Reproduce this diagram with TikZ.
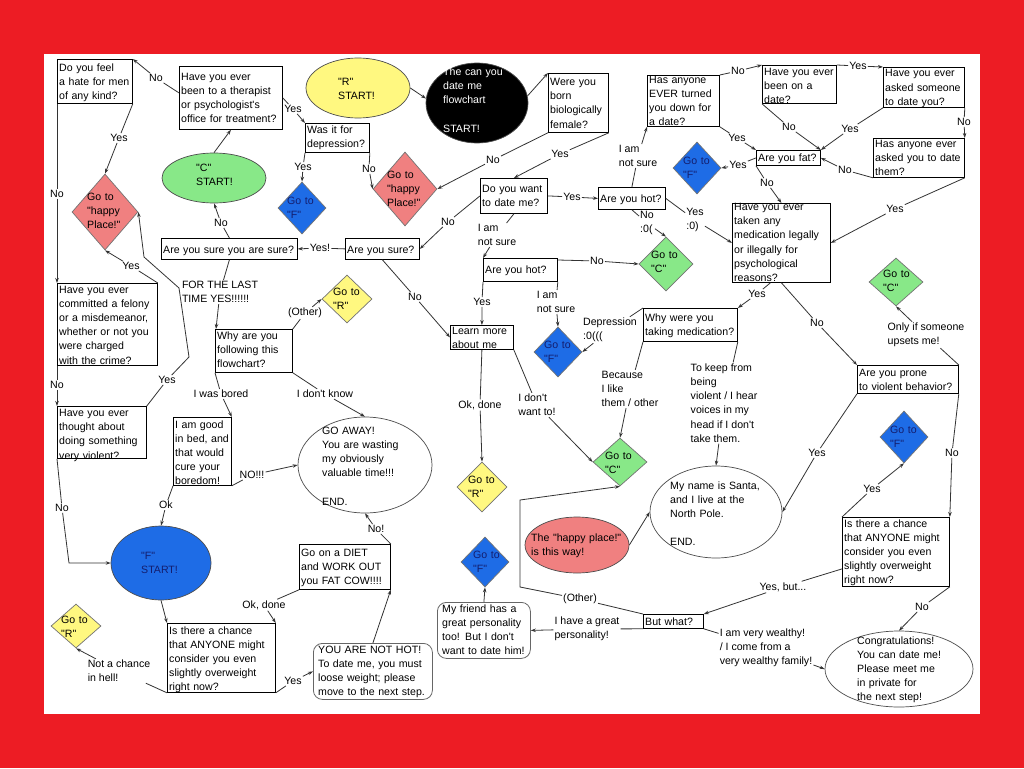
\documentclass[tikz,border=0pt]{standalone}
\usepackage{fontspec}
\newfontfamily\arialish{Liberation Sans}
\usetikzlibrary{shapes.geometric,arrows.meta}
\newcommand\myfs{\arialish\fontsize{10.6}{14.2}\selectfont}
\definecolor{redbg}{RGB}{237,28,36}
\definecolor{pinkc}{RGB}{240,128,128}
\definecolor{greenc}{RGB}{136,232,136}
\definecolor{yellowc}{RGB}{255,248,128}
\definecolor{bluec}{RGB}{30,108,230}
\definecolor{navy}{RGB}{20,30,110}
\tikzset{
  ln/.style={draw=black!80, line width=0.8pt},
  ar/.style={ln, -{Stealth[length=5pt,width=3.5pt]}},
  lab/.style={font=\myfs, inner sep=1pt, align=left},
  bx/.style={draw=black, line width=0.8pt, fill=white, inner sep=0pt, anchor=north west},
  rbx/.style={draw=black!60, line width=0.8pt, fill=white, inner sep=0pt, anchor=north west, rounded corners=9pt},
  tx/.style={font=\myfs, inner sep=0pt, anchor=base west, text width=200pt, align=left},
  dm/.style={diamond, draw=black!55, line width=0.7pt, inner sep=0pt},
  el/.style={ellipse, draw=black!70, line width=0.7pt, inner sep=0pt},
}
\newcommand\qb[7]{%
  \node[bx, minimum width=#4pt, minimum height=#5pt] (#1) at (#2,#3) {};
  \node[tx] at (#2+2,#3+#6) {#7};}
\begin{document}
\begin{tikzpicture}[x=1pt,y=-1pt]
\useasboundingbox (0,0) rectangle (1024,768);
\fill[redbg] (0,0) rectangle (1024,768);
\fill[white] (44,54) rectangle (980,714);

% ---------- boxes ----------
\qb{hate}{57}{59}{75}{44}{12.5}{Do you feel\\a hate for men\\of any kind?}
\qb{ther}{179}{66}{103}{63}{14}{Have you ever\\been to a therapist\\or psychologist's\\office for treatment?}
\qb{depr}{305}{123}{64}{29}{10}{Was it for\\depression?}
\qb{fem}{548}{73}{60}{59}{12.5}{Were you\\born\\biologically\\female?}
\qb{want}{480}{178}{67}{35}{14}{Do you want\\to date me?}
\qb{hotA}{598}{187}{67}{22}{15}{Are you hot?}
\qb{turn}{647}{75}{72}{51}{8}{Has anyone\\EVER turned\\you down for\\a date?}
\qb{been}{762}{65}{74}{38}{10.5}{Have you ever\\been on a\\date?}
\qb{asked}{883}{67}{81}{40}{10}{Have you ever\\asked someone\\to date you?}
\qb{anyask}{873}{138}{91}{39}{9}{Has anyone ever\\asked you to date\\them?}
\qb{fat}{756}{150}{64}{15}{11}{Are you fat?}
\qb{med}{732}{203}{98}{79}{7.5}{Have you ever\\taken any\\medication legally\\or illegally for\\psychological\\reasons?}
\qb{suretwo}{161}{238}{136}{21}{15}{Are you sure you are sure?}
\qb{sure}{345}{238}{74}{21}{15}{Are you sure?}
\qb{hotB}{483}{258}{74}{23}{15}{Are you hot?}
\qb{why}{215}{329}{77}{43}{10}{Why are you\\following this\\flowchart?}
\qb{learn}{450}{325}{63}{24}{9.5}{Learn more\\about me}
\qb{felony}{57}{283}{100}{82}{10}{Have you ever\\committed a felony\\or a misdemeanor,\\whether or not you\\were charged\\with the crime?}
\qb{violent}{57}{406}{89}{52}{10.5}{Have you ever\\thought about\\doing something\\very violent?}
\qb{good}{173}{417}{58}{68}{11}{I am good\\in bed, and\\that would\\cure your\\boredom!}
\qb{medwhy}{643}{308}{94}{33}{13}{Why were you\\taking medication?}
\qb{prone}{857}{365}{101}{28}{11}{Are you prone\\to violent behavior?}
\qb{chanceB}{842}{517}{107}{69}{10}{Is there a chance\\that ANYONE might\\consider you even\\slightly overweight\\right now?}
\qb{chanceA}{167}{623}{108}{69}{11}{Is there a chance\\that ANYONE might\\consider you even\\slightly overweight\\right now?}
\qb{diet}{299}{544}{91}{45}{12}{Go on a DIET\\and WORK OUT\\you FAT COW!!!!}
\qb{butwhat}{643}{614}{60}{14}{11}{But what?}

\node[rbx, minimum width=119pt, minimum height=56pt] (nothot) at (313,643) {};
\node[tx] at (318,653) {YOU ARE NOT HOT!\\To date me, you must\\loose weight; please\\move to the next step.};
\node[rbx, minimum width=93pt, minimum height=56pt] (friend) at (437,602) {};
\node[tx] at (442,612) {My friend has a\\great personality\\too! But I don't\\want to date him!};

% ---------- ellipses ----------
\node[el, fill=greenc, minimum width=104pt, minimum height=50pt] (cstart) at (214,178) {};
\node[tx] at (196,171) {"C"\\START!};
\node[el, fill=yellowc, minimum width=104pt, minimum height=60pt] (rstart) at (358,88) {};
\node[tx] at (338,85) {"R"\\START!};
\node[el, fill=black, minimum width=102pt, minimum height=80pt] (blk) at (477,103) {};
\node[tx, text=white] at (443,75.5) {The can you\\date me\\flowchart\\[14.2pt]START!};
\node[el, fill=bluec, minimum width=100pt, minimum height=74pt] (fstart) at (161,563) {};
\node[tx, text=navy] at (141,559) {"F"\\START!};
\node[el, fill=white, minimum width=134pt, minimum height=96pt] (goaway) at (365,465) {};
\node[tx] at (322,434) {GO AWAY!\\You are wasting\\my obviously\\valuable time!!!\\[14.2pt]END.};
\node[el, fill=white, minimum width=132pt, minimum height=92pt] (santa) at (716,512) {};
\node[tx] at (670,489) {My name is Santa,\\and I live at the\\North Pole.\\[14.2pt]END.};
\node[el, fill=pinkc, minimum width=104pt, minimum height=56pt] (happyE) at (577,545) {};
\node[tx] at (531,541.5) {The "happy place!"\\is this way!};
\node[el, fill=white, minimum width=148pt, minimum height=76pt] (congrats) at (899,669) {};
\node[tx] at (857,644) {Congratulations!\\You can date me!\\Please meet me\\in private for\\the next step!};

% ---------- diamonds ----------
\node[dm, fill=pinkc, minimum width=66pt, minimum height=76pt] (happyA) at (105,212) {};
\node[tx] at (87,200.5) {Go to\\"happy\\Place!"};
\node[dm, fill=pinkc, minimum width=64pt, minimum height=74pt] (happyB) at (405,189) {};
\node[tx] at (387,178) {Go to\\"happy\\Place!"};
\node[dm, fill=bluec, minimum width=48pt, minimum height=52pt] (fA) at (302,208) {};
\node[tx, text=navy] at (287,204) {Go to\\"F"};
\node[dm, fill=bluec, minimum width=48pt, minimum height=52pt] (fB) at (697,168) {};
\node[tx, text=navy] at (683,164) {Go to\\"F"};
\node[dm, fill=greenc, minimum width=54pt, minimum height=54pt] (cA) at (666,264) {};
\node[tx] at (651,258) {Go to\\"C"};
\node[dm, fill=yellowc, minimum width=50pt, minimum height=48pt] (rA) at (347,299) {};
\node[tx] at (333,295) {Go to\\"R"};
\node[dm, fill=bluec, minimum width=48pt, minimum height=50pt] (fC) at (558,352) {};
\node[tx, text=navy] at (544,348) {Go to\\"F"};
\node[dm, fill=greenc, minimum width=54pt, minimum height=48pt] (cB) at (620,462) {};
\node[tx] at (605,459) {Go to\\"C"};
\node[dm, fill=yellowc, minimum width=50pt, minimum height=50pt] (rB) at (482,487) {};
\node[tx] at (468,483) {Go to\\"R"};
\node[dm, fill=bluec, minimum width=48pt, minimum height=50pt] (fD) at (485,562) {};
\node[tx, text=navy] at (473,558) {Go to\\"F"};
\node[dm, fill=yellowc, minimum width=50pt, minimum height=44pt] (rC) at (76,626) {};
\node[tx] at (61,623) {Go to\\"R"};
\node[dm, fill=greenc, minimum width=54pt, minimum height=48pt] (cC) at (896,282) {};
\node[tx] at (883,277) {Go to\\"C"};
\node[dm, fill=bluec, minimum width=48pt, minimum height=52pt] (fE) at (904,437) {};
\node[tx, text=navy] at (890,433) {Go to\\"F"};

% ---------- labels ----------
\node[lab] (l1) at (156,78) {No};
\node[lab] (l2) at (293,109) {Yes};
\node[lab] (l3) at (119,138) {Yes};
\node[lab] (l4) at (57,194) {No};
\node[lab] (l5) at (221,223) {No};
\node[lab] (l6) at (303,167) {Yes};
\node[lab] (l7) at (369,169) {No};
\node[lab] (l8) at (493,160) {No};
\node[lab] (l9) at (560,154) {Yes};
\node[lab] (l10) at (448,222) {No};
\node[lab] (l11) at (320,248) {Yes!};
\node[lab] (l12) at (497,235) {I am\\not sure};
\node[lab] (l13) at (572,197) {Yes};
\node[lab] (l14) at (638,156) {I am\\not sure};
\node[lab] (l15) at (738,71) {No};
\node[lab] (l16) at (737,138) {Yes};
\node[lab] (l17) at (738,165) {Yes};
\node[lab] (l18) at (858,66) {Yes};
\node[lab] (l19) at (789,127) {No};
\node[lab] (l20) at (850,129) {Yes};
\node[lab] (l21) at (964,122) {No};
\node[lab] (l22) at (845,170) {No};
\node[lab] (l23) at (767,183) {No};
\node[lab] (l24) at (895,209) {Yes};
\node[lab] (l25) at (647,223) {No\\:0(};
\node[lab] (l26) at (695,220) {Yes\\:0)};
\node[lab] (l27) at (597,261) {No};
\node[lab] (l28) at (220,292) {FOR THE LAST\\TIME YES!!!!!!};
\node[lab] (l29) at (415,297) {No};
\node[lab] (l30) at (482,302) {Yes};
\node[lab] (l31) at (556,302) {I am\\not sure};
\node[lab] (l32) at (610,330) {Depression\\:0(((};
\node[lab] (l33) at (757,294) {Yes};
\node[lab] (l34) at (817,323) {No};
\node[lab] (l35) at (926,335) {Only if someone\\upsets me!};
\node[lab] (l36) at (305,313) {(Other)};
\node[lab] (l37) at (221,394) {I was bored};
\node[lab] (l38) at (325,394) {I don't know};
\node[lab] (l39) at (167,380) {Yes};
\node[lab] (l40) at (57,385) {No};
\node[lab] (l41) at (62,508) {No};
\node[lab] (l42) at (252,475) {NO!!!};
\node[lab] (l43) at (166,505) {Ok};
\node[lab] (l44) at (480,405) {Ok, done};
\node[lab] (l45) at (537,405) {I don't\\want to!};
\node[lab] (l46) at (630,389) {Because\\I like\\them / other};
\node[lab] (l47) at (724,403) {To keep from\\being\\violent / I hear\\voices in my\\head if I don't\\take them.};
\node[lab] (l48) at (817,453) {Yes};
\node[lab] (l49) at (952,453) {No};
\node[lab] (l50) at (872,489) {Yes};
\node[lab] (l51) at (783,587) {Yes, but...};
\node[lab] (l52) at (922,607) {No};
\node[lab] (l53) at (766,648) {I am very wealthy!\\/ I come from a\\very wealthy family!};
\node[lab] (l54) at (580,599) {(Other)};
\node[lab] (l55) at (587,629) {I have a great\\personality!};
\node[lab] (l56) at (376,529) {No!};
\node[lab] (l57) at (264,605) {Ok, done};
\node[lab] (l58) at (293,681) {Yes};
\node[lab] (l59) at (119,671) {Not a chance\\in hell!};
\node[lab] (l60) at (131,266) {Yes};

% ---------- connectors ----------
\draw[ar] ([yshift=5pt]ther.west) -- (l1) -- (hate.north east);
\draw[ar] (ther.east) -- (l2) -- (depr.north west);
\draw[ar] (hate.south east) -- (l3) -- (happyA.north);
\draw[ar] (hate.south west) -- (l4) -- (felony.north west);
\draw[ar] (suretwo.north) -- (l5) -- (cstart.south);
\draw[ar] (depr.south west) -- (l6) -- (fA.north);
\draw[ar] (depr.south east) -- (l7) -- (happyB.west);
\draw[ar] (fem.south west) -- (l8) -- (happyB.east);
\draw[ar] (fem.south east) -- (l9) -- (want.north);
\draw[ar] (want.west) -- (l10) -- (sure.east);
\draw[ar] (sure.west) -- (l11) -- (suretwo.east);
\draw[ar] (want.south) -- (l12) -- (hotB.north west);
\draw[ar] (want.east) -- (l13) -- (hotA.west);
\draw[ar] (hotA.north) -- (l14) -- (turn.south west);
\draw[ar] (turn.north east) -- (l15) -- (been.north west);
\draw[ar] (turn.south east) -- (l16) -- (fat.north west);
\draw[ar] (fat.west) -- (l17) -- (fB.east);
\draw[ar] (been.north east) -- (l18) -- (asked.north west);
\draw[ar] (been.south west) -- (l19) -- (fat.north east);
\draw[ar] (asked.south west) -- (l20) -- (fat.north east);
\draw[ar] (asked.south east) -- (l21) -- (anyask.north east);
\draw[ar] (anyask.south west) -- (l22) -- (fat.east);
\draw[ar] (fat.south west) -- (l23) -- (med.north);
\draw[ar] (anyask.south east) -- (l24) -- (med.east);
\draw[ar] (hotA.south) -- (l25) -- (cA.north);
\draw[ar] (hotA.east) -- (l26) -- (med.west);
\draw[ar] ([yshift=-2pt]hotB.north east) -- (l27) -- (cA.west);
\draw[ar] (suretwo.south) -- (l28) -- ([xshift=1pt]why.north west);
\draw[ar] (sure.south) -- (l29) -- (learn.west);
\draw[ar] (hotB.south west) -- (l30) -- (learn.north);
\draw[ar] (hotB.south east) -- (l31) -- (fC.north);
\draw[ar] (medwhy.north west) -- (l32) -- (fC.east);
\draw[ar] ([xshift=-11pt]med.south) -- (l33) -- (medwhy.north east);
\draw[ar] (med.south) -- (l34) -- (prone.north west);
\draw[ar] (prone.north east) -- (l35) -- (cC.south);
\draw[ar] (why.north east) -- (l36) -- (rA.west);
\draw[ar] (why.south west) -- (l37) -- (good.north east);
\draw[ar] (why.south east) -- (l38) -- (goaway.north);
\draw[ar] (violent.north east) -- (l39) -- (189,357) -- (179,288) -- (144,257) -- (happyA.east);
\draw[ar] (felony.north east) -- (l60) -- (happyA.south);
\draw[ar] (felony.south west) -- (l40) -- (violent.north west);
\draw[ar] (violent.south west) -- (l41) -- (69,563) -- (fstart.west);
\draw[ar] (good.south east) -- (l42) -- (goaway.west);
\draw[ar] (good.south west) -- (l43) -- (fstart.north);
\draw[ar] (learn.south) -- (l44) -- (rB.north);
\draw[ar] (learn.south east) -- (l45) -- (cB.west);
\draw[ar] (medwhy.south west) -- (l46) -- (cB.north);
\draw[ar] (medwhy.south east) -- (l47) -- (santa.north);
\draw[ar] (prone.south west) -- (l48) -- (santa.east);
\draw[ar] (prone.south east) -- (l49) -- (chanceB.north east);
\draw[ar] (chanceB.north west) -- (l50) -- (fE.south);
\draw[ar] ([yshift=-17pt]chanceB.west) -- (l51) -- (butwhat.north east);
\draw[ar] (chanceB.south east) -- (l52) -- (congrats.north);
\draw[ar] (butwhat.south east) -- (l53) -- (congrats.west);
\draw[ar] (butwhat.north west) -- (l54) -- (520,587) -- (520,500) -- (cB.south);
\draw[ar] (butwhat.south west) -- (l55) -- (friend.east);
\draw[ar] (friend.north) -- (fD.south);
\draw[ar] (happyE.east) -- (santa.west);
\draw[ar] (chanceA.south west) -- (l59) -- (rC.south);
\draw[ar] (chanceA.south east) -- (l58) -- (nothot.west);
\draw[ar] (diet.south west) -- (l57) -- (chanceA.north east);
\draw[ar] (nothot.north) -- (diet.south east);
\draw[ar] (diet.north east) -- (l56) -- (goaway.south);
\draw[ar] (cstart.north) -- (ther.south);
\draw[ar] (rstart.east) -- (blk.175);
\draw[ar] (blk.8) -- (fem.north west);
\draw[ar] (fstart.south) -- (chanceA.north west);
\end{tikzpicture}
\end{document}
